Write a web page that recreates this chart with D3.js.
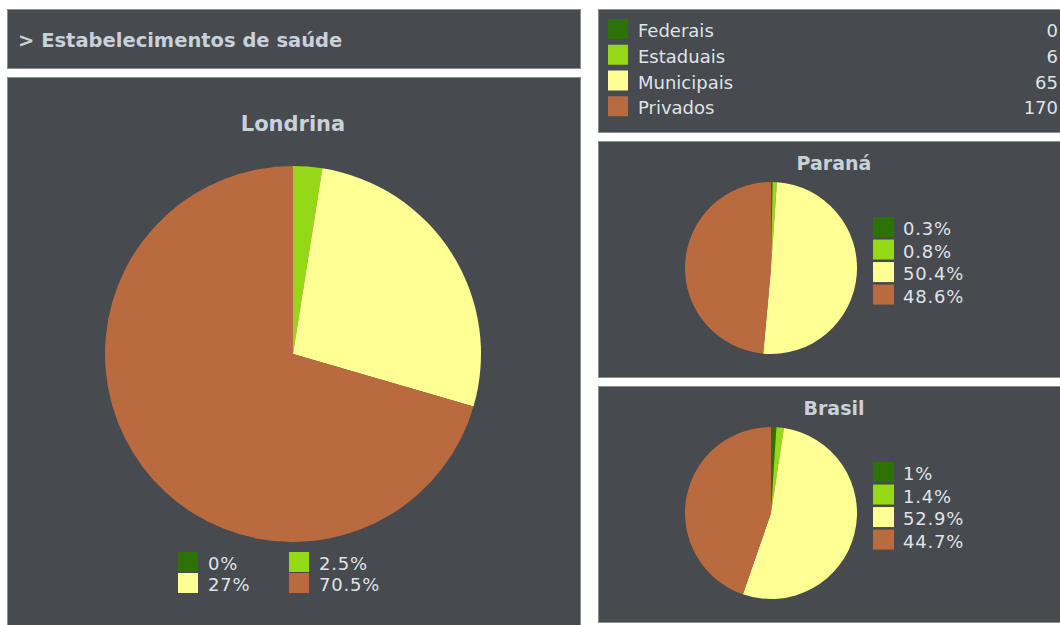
<!doctype html>
<html>
<head>
<meta charset="UTF-8">
<title>Estabelecimentos de saúde</title>
<script src="https://d3js.org/d3.v7.min.js"></script>
<style>
    body { margin: 0; background: #ffffff; }
    svg { display: block; font-family: "DejaVu Sans", Verdana, sans-serif; }
</style>
</head>
<body>
<svg id="chart" width="1060" height="625"></svg>
<script>
// data
var categorias = ["Federais", "Estaduais", "Municipais", "Privados"];
var cores = ["#2e7207", "#95d816", "#ffff93", "#b96b3f"];
var totaisLondrina = [0, 6, 65, 170];
var pctLondrina = [0, 2.5, 27, 70.5];
var pctParana = [0.3, 0.8, 50.4, 48.6];
var pctBrasil = [1, 1.4, 52.9, 44.7];
var rotulosLondrina = ["0%", "2.5%", "27%", "70.5%"];
var rotulosParana = ["0.3%", "0.8%", "50.4%", "48.6%"];
var rotulosBrasil = ["1%", "1.4%", "52.9%", "44.7%"];

var svg = d3.select("#chart");
var bg = "#474a4e", borda = "#8b8e92", texto = "#c9d1d9", textoClaro = "#dfe3e8";

var cor = d3.scaleOrdinal().domain(categorias).range(cores);

function painel(x, y, w, h) {
    svg.append("rect").attr("x", x + 0.5).attr("y", y + 0.5)
        .attr("width", w).attr("height", h)
        .attr("fill", bg).attr("stroke", borda).attr("stroke-width", 1);
}

painel(7, 9, 573, 59);
painel(7, 77, 573, 560);
painel(598, 9, 470, 123);
painel(598, 141, 470, 236);
painel(598, 386, 470, 236);

// header
svg.append("text").attr("x", 18).attr("y", 47)
    .attr("font-size", 19.5).attr("font-weight", "bold")
    .attr("fill", texto).text("> Estabelecimentos de saúde");

// legenda de totais
var leg = d3.scaleBand().domain(categorias).range([19, 122]);
var gl = svg.append("g");
categorias.forEach(function (c, i) {
    gl.append("rect").attr("x", 608).attr("y", leg(c))
        .attr("width", 20).attr("height", 20).attr("fill", cor(c));
    gl.append("text").attr("x", 638).attr("y", leg(c) + 18)
        .attr("font-size", 18).attr("fill", textoClaro).text(c);
    gl.append("text").attr("x", 1058).attr("y", leg(c) + 18)
        .attr("font-size", 18).attr("fill", textoClaro)
        .attr("text-anchor", "end").text(totaisLondrina[i]);
});

function pizza(cx, cy, r, valores) {
    var pie = d3.pie().sort(null).value(function (d) { return d; });
    var arc = d3.arc().innerRadius(0).outerRadius(r);
    svg.append("g").attr("transform", "translate(" + cx + "," + cy + ")")
        .selectAll("path").data(pie(valores)).enter().append("path")
        .attr("d", arc)
        .attr("fill", function (d, i) { return cores[i]; });
}

// Londrina
svg.append("text").attr("x", 293).attr("y", 131).attr("text-anchor", "middle")
    .attr("font-size", 21).attr("font-weight", "bold").attr("fill", texto).text("Londrina");
pizza(293, 354, 188, pctLondrina);

var lx = d3.scalePoint().domain([0, 1]).range([178, 289]);
var ly = d3.scalePoint().domain([0, 1]).range([552, 573]);
rotulosLondrina.forEach(function (t, i) {
    var col = i % 2, lin = Math.floor(i / 2);
    svg.append("rect").attr("x", lx(col)).attr("y", ly(lin))
        .attr("width", 20).attr("height", 20).attr("fill", cores[i]);
    svg.append("text").attr("x", lx(col) + 30).attr("y", ly(lin) + 18)
        .attr("font-size", 18).attr("letter-spacing", 0.8)
        .attr("fill", textoClaro).text(t);
});

// Paraná e Brasil
function menor(titulo, topo, valores, rotulos) {
    svg.append("text").attr("x", 834).attr("y", topo + 29).attr("text-anchor", "middle")
        .attr("font-size", 19).attr("font-weight", "bold").attr("fill", texto).text(titulo);
    pizza(771, topo + 127, 86, valores);
    var y = d3.scaleBand().domain(d3.range(4)).range([topo + 76, topo + 165]).paddingInner(0.05);
    rotulos.forEach(function (t, i) {
        svg.append("rect").attr("x", 873).attr("y", y(i))
            .attr("width", 21).attr("height", 20).attr("fill", cores[i]);
        svg.append("text").attr("x", 903).attr("y", y(i) + 18)
            .attr("font-size", 18).attr("letter-spacing", 0.8)
            .attr("fill", textoClaro).text(t);
    });
}
menor("Paraná", 141, pctParana, rotulosParana);
menor("Brasil", 386, pctBrasil, rotulosBrasil);
</script>
</body>
</html>
